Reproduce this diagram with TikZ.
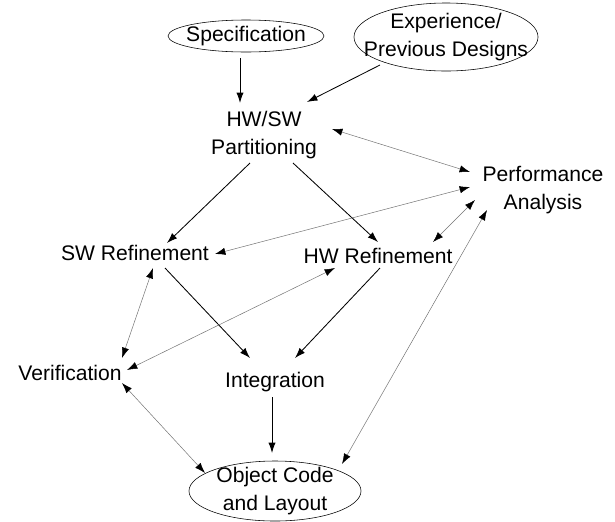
\documentclass[tikz,border=0pt]{standalone}
\usepackage{fontspec}
\setmainfont{Liberation Sans}
\usetikzlibrary{arrows.meta}

\tikzset{
  lbl/.style={align=center, inner sep=0pt, font=\fontsize{15}{19.5}\selectfont},
  flow/.style={-{Latex[length=2.6mm,width=1.8mm]}, line width=0.6pt},
  feedback/.style={{Latex[length=2.6mm,width=1.8mm,color=black]}-{Latex[length=2.6mm,width=1.8mm,color=black]}, line width=0.35pt, draw=black!55},
}

\begin{document}
\begin{tikzpicture}[x=0.025cm,y=-0.025cm]
\useasboundingbox (0,0) rectangle (615,521);
% inputs
\node[lbl] (spec) at (246,36) {Specification};
\draw (spec) ellipse [x radius=1.95cm, y radius=0.4cm];
\node[lbl] (exper) at (446,37) {Experience/\\Previous Designs};
\draw (exper) ellipse [x radius=2.3cm, y radius=0.85cm];
% design steps
\node[lbl] (hwsw) at (264,135) {HW/SW\\Partitioning};
\node[lbl] (perf) at (543,190) {Performance\\Analysis};
\node[lbl] (swref) at (135,253) {SW Refinement};
\node[lbl] (hwref) at (378,256) {HW Refinement};
\node[lbl] (verif) at (70,373) {Verification};
\node[lbl] (integ) at (275,382) {Integration};
\node[lbl] (obj) at (275,491) {Object Code\\and Layout};
\draw (obj) ellipse [x radius=2.15cm, y radius=0.75cm];
% main flow
\draw[flow] ([shift={(-6,22)}]spec.center) -- ([shift={(-24,-32)}]hwsw.center);
\draw[flow] ([shift={(-66,28)}]exper.center) -- ([shift={(43,-33)}]hwsw.center);
\draw[flow] ([shift={(-14,28)}]hwsw.center) -- ([shift={(32,-10)}]swref.center);
\draw[flow] ([shift={(29,28)}]hwsw.center) -- ([shift={(0,-14)}]hwref.center);
\draw[flow] ([shift={(30,15)}]swref.center) -- ([shift={(-25,-24)}]integ.center);
\draw[flow] ([shift={(2,12)}]hwref.center) -- ([shift={(20,-24)}]integ.center);
\draw[flow] ([shift={(-3,15)}]integ.center) -- ([shift={(-3,-38)}]obj.center);
% analysis and verification
\draw[feedback] ([shift={(68,-6)}]hwsw.center) -- ([shift={(-73,-18)}]perf.center);
\draw[feedback] ([shift={(80,1)}]swref.center) -- ([shift={(-73,-3)}]perf.center);
\draw[feedback] ([shift={(55,-14)}]hwref.center) -- ([shift={(-68,10)}]perf.center);
\draw[feedback] ([shift={(67,-27)}]obj.center) -- ([shift={(-56,20)}]perf.center);
\draw[feedback] ([shift={(18,15)}]swref.center) -- ([shift={(52,-15)}]verif.center);
\draw[feedback] ([shift={(-43,12)}]hwref.center) -- ([shift={(57,-3)}]verif.center);
\draw[feedback] ([shift={(-70,-18)}]obj.center) -- ([shift={(52,10)}]verif.center);
\end{tikzpicture}
\end{document}
